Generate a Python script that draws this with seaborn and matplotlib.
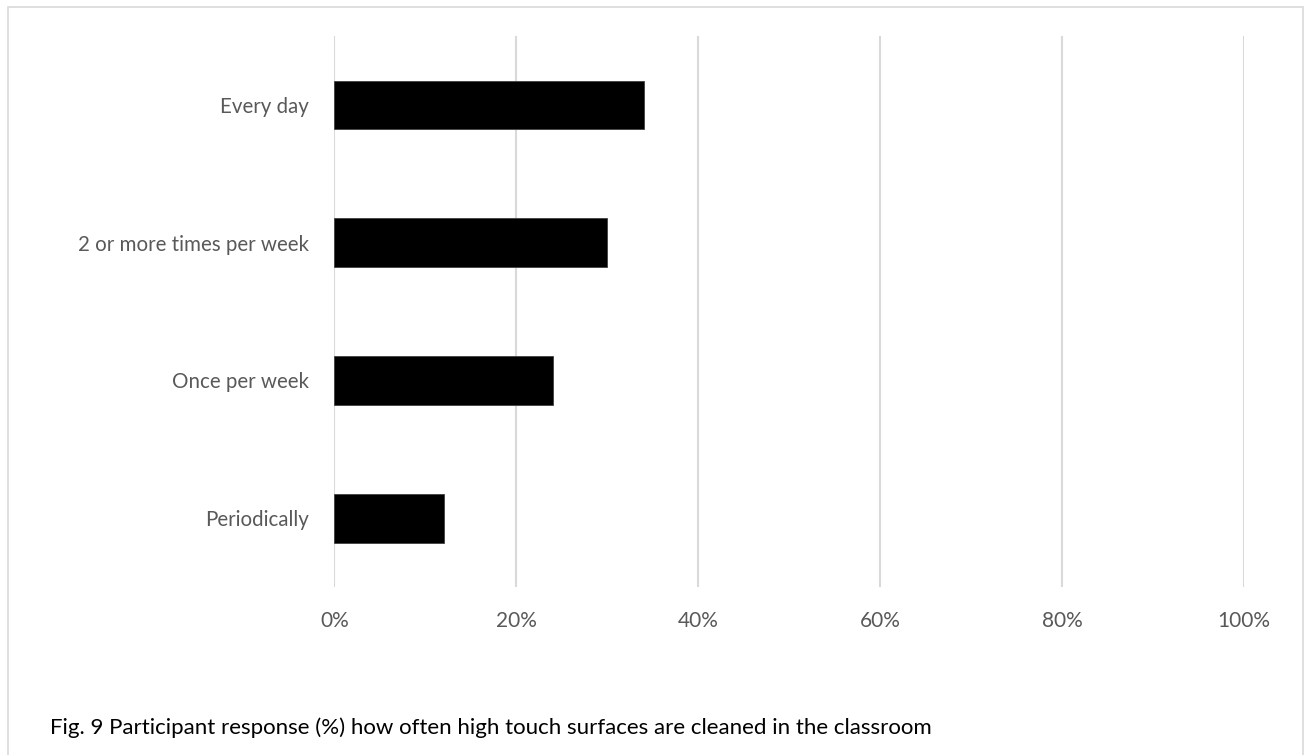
import matplotlib
matplotlib.use("Agg")
import matplotlib.pyplot as plt
from matplotlib.patches import Rectangle
import seaborn as sns
import pandas as pd

categories = ["Every day", "2 or more times per week", "Once per week", "Periodically"]
percentages = [34, 30, 24, 12]
x_ticks = [0, 20, 40, 60, 80, 100]
x_tick_labels = ["0%", "20%", "40%", "60%", "80%", "100%"]
caption = "Fig. 9 Participant response (%) how often high touch surfaces are cleaned in the classroom"

sns.set_theme(style="white")
plt.rcParams["font.family"] = ["Lato", "DejaVu Sans"]

df = pd.DataFrame({"category": categories, "percent": percentages})

fig = plt.figure(figsize=(13.04, 7.55), dpi=100)
ax = fig.add_axes([0.2564, 0.2225, 0.6976, 0.7298])

sns.barplot(data=df, x="percent", y="category", order=categories, orient="h",
            color="black", width=0.354, saturation=1, edgecolor="#404040",
            linewidth=0.6, ax=ax, zorder=3)

ax.set_xlim(0, 100)
ax.set_ylim(3.5, -0.5)
ax.set_xticks(x_ticks)
ax.set_xticklabels(x_tick_labels)
ax.xaxis.grid(True, color="#d9d9d9", linewidth=1.5, zorder=0)
ax.yaxis.grid(False)
for s in ax.spines.values():
    s.set_visible(False)
ax.tick_params(axis="x", length=0, pad=17, labelsize=15, labelcolor="#595959")
ax.tick_params(axis="y", length=0, pad=18, labelsize=14.8, labelcolor="#595959")
ax.set_xlabel("")
ax.set_ylabel("")

# outer frame around the chart area
fig.patches.append(Rectangle((7.5 / 1304, -0.05), (1303 - 7.5) / 1304, 1.05 - 7 / 755,
                             transform=fig.transFigure, fill=False,
                             edgecolor="#d9d9d9", linewidth=1.2))

fig.text(50 / 1304, 1 - 728 / 755, caption, fontsize=16, color="#000000",
         ha="left", va="center")

fig.savefig("out.png", dpi=100)
